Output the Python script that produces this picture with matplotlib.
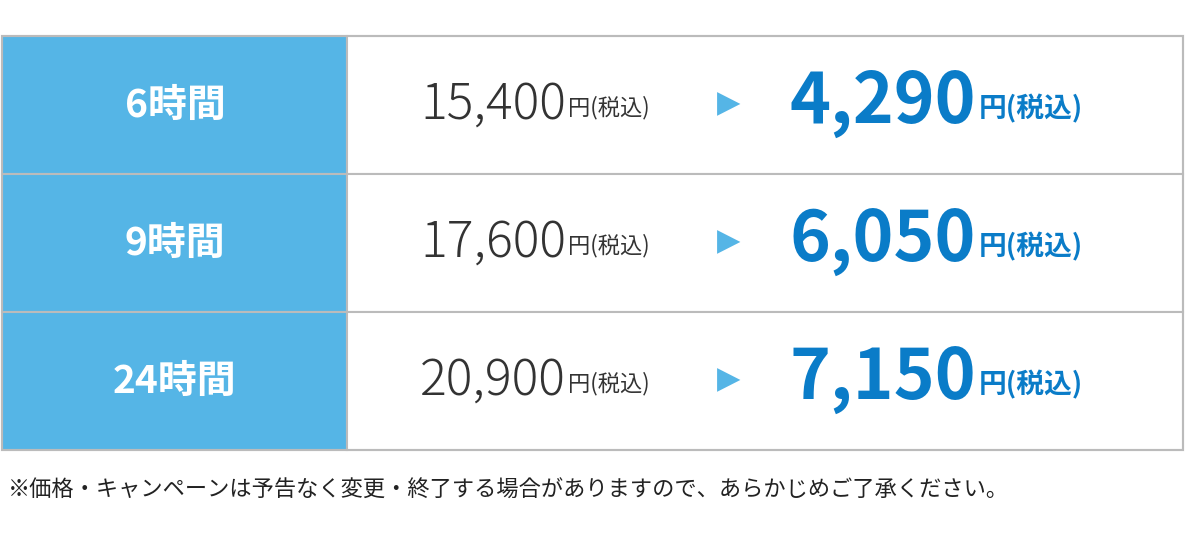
import matplotlib.pyplot as plt
from matplotlib.patches import Rectangle

plt.rcParams['font.family'] = ['Noto Sans CJK JP', 'DejaVu Sans']

durations = ["6時間", "9時間", "24時間"]
old_prices = ["15,400", "17,600", "20,900"]
new_prices = ["4,290", "6,050", "7,150"]
suffix = "円(税込)"
note = "※価格・キャンペーンは予告なく変更・終了する場合がありますので、あらかじめご了承ください。"

W, H = 1185, 533
fig = plt.figure(figsize=(W / 100, H / 100), dpi=100)
ax = fig.add_axes([0, 0, 1, 1])
ax.set_xlim(0, W)
ax.set_ylim(H, 0)
ax.axis('off')

top, bottom = 36, 450
row_h = (bottom - top) / len(durations)
grid = '#bbbbbb'
blue_cell = '#55b5e6'
blue_text = '#0a7cc8'

for i, (d, old, new) in enumerate(zip(durations, old_prices, new_prices)):
    y0 = top + i * row_h
    yc = y0 + row_h / 2
    ax.add_patch(Rectangle((2, y0), 345, row_h, facecolor=blue_cell, edgecolor=grid, lw=1.5))
    ax.add_patch(Rectangle((347, y0), 836, row_h, facecolor='white', edgecolor=grid, lw=1.5))
    ax.text(175, yc, d, color='white', fontsize=28, fontweight='bold', ha='center', va='center')
    ax.text(566, yc, old, color='#333333', fontsize=36, fontweight='light', ha='right', va='center')
    ax.text(568, yc + 3, suffix, color='#333333', fontsize=16, ha='left', va='center')
    ax.text(729, yc - 1, '▶', color=blue_cell, fontsize=22, ha='center', va='center',
            family='DejaVu Sans')
    ax.text(976, yc - 2, new, color=blue_text, fontsize=50, fontweight='bold', ha='right', va='center')
    ax.text(979, yc + 4, suffix, color=blue_text, fontsize=20, fontweight='bold', ha='left', va='center')

ax.add_patch(Rectangle((2, top), 1181, bottom - top, facecolor='none', edgecolor=grid, lw=1.5))
ax.text(8, 490, note, color='#222222', fontsize=16, ha='left', va='center')

fig.savefig('out.png', dpi=100)
